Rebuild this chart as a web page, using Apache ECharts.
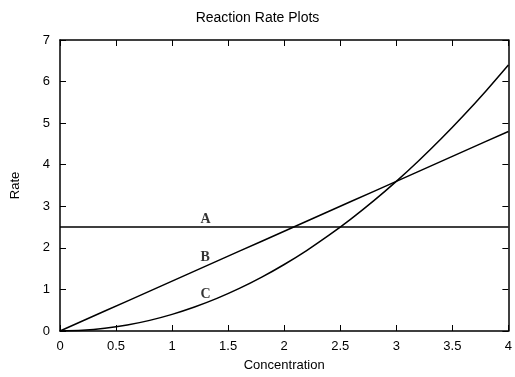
<!DOCTYPE html>
<html>
<head>
<meta charset="utf-8">
<script src="https://cdn.jsdelivr.net/npm/echarts@6/dist/echarts.min.js"></script>
<style>
html,body{margin:0;padding:0;background:#fff;}
#chart{width:515px;height:377px;}
</style>
</head>
<body>
<div id="chart"></div>
<script>
// Data
const concentration = [0, 0.2, 0.4, 0.6, 0.8, 1, 1.2, 1.4, 1.6, 1.8, 2, 2.2, 2.4, 2.6, 2.8, 3, 3.2, 3.4, 3.6, 3.8, 4];
const rateA = [2.5, 2.5, 2.5, 2.5, 2.5, 2.5, 2.5, 2.5, 2.5, 2.5, 2.5, 2.5, 2.5, 2.5, 2.5, 2.5, 2.5, 2.5, 2.5, 2.5, 2.5];
const rateB = [0, 0.24, 0.48, 0.72, 0.96, 1.2, 1.44, 1.68, 1.92, 2.16, 2.4, 2.64, 2.88, 3.12, 3.36, 3.6, 3.84, 4.08, 4.32, 4.56, 4.8];
const rateC = [0, 0.016, 0.064, 0.144, 0.256, 0.4, 0.576, 0.784, 1.024, 1.296, 1.6, 1.936, 2.304, 2.704, 3.136, 3.6, 4.096, 4.624, 5.184, 5.776, 6.4];
const curveNames = ['A', 'B', 'C'];
const curveLabelX = [1.25, 1.25, 1.25];
const curveLabelY = [2.68, 1.78, 0.88];
const xTicks = { min: 0, max: 4, interval: 0.5 };
const yTicks = { min: 0, max: 7, interval: 1 };

const pairs = (xs, ys) => xs.map((x, i) => [x, ys[i]]);
const FONT = 'Liberation Sans';
const lineStyle = { color: '#000', width: 1.5 };

function xAxisDef(pos, show) {
  return {
    type: 'value', position: pos, min: xTicks.min, max: xTicks.max, interval: xTicks.interval,
    name: show ? 'Concentration' : '', nameLocation: 'middle', nameGap: 28,
    nameTextStyle: { fontFamily: FONT, fontSize: 13, color: '#000' },
    axisLine: { show: true, onZero: false, lineStyle: { color: '#000', width: 1.5 } },
    axisTick: { show: true, inside: true, length: 6, lineStyle: { color: '#000', width: 1 } },
    axisLabel: { show: show, margin: 9, fontFamily: FONT, fontSize: 13, color: '#000', showMaxLabel: true, showMinLabel: true },
    splitLine: { show: false }
  };
}
function yAxisDef(pos, show) {
  return {
    type: 'value', position: pos, min: yTicks.min, max: yTicks.max, interval: yTicks.interval,
    name: show ? 'Rate' : '', nameLocation: 'middle', nameGap: 38, nameRotate: 90,
    nameTextStyle: { fontFamily: FONT, fontSize: 13, color: '#000' },
    axisLine: { show: true, onZero: false, lineStyle: { color: '#000', width: 1.5 } },
    axisTick: { show: true, inside: true, length: 6, lineStyle: { color: '#000', width: 1 } },
    axisLabel: { show: show, margin: 10, fontFamily: FONT, fontSize: 13, color: '#000' },
    splitLine: { show: false }
  };
}

const chart = echarts.init(document.getElementById('chart'), null, { renderer: 'canvas' });
chart.setOption({
  animation: false,
  backgroundColor: '#fff',
  title: {
    text: 'Reaction Rate Plots', left: 'center', top: 6,
    textStyle: { fontFamily: FONT, fontSize: 14, fontWeight: 'normal', color: '#000' }
  },
  grid: { left: 60, right: 2, top: 40, bottom: 44, containLabel: false },
  xAxis: [xAxisDef('bottom', true), xAxisDef('top', false)],
  yAxis: [yAxisDef('left', true), yAxisDef('right', false)],
  series: [
    { name: 'A', type: 'line', data: pairs(concentration, rateA), showSymbol: false, symbol: 'none', lineStyle: lineStyle, itemStyle: { color: '#000' } },
    { name: 'B', type: 'line', data: pairs(concentration, rateB), showSymbol: false, symbol: 'none', lineStyle: lineStyle, itemStyle: { color: '#000' } },
    { name: 'C', type: 'line', data: pairs(concentration, rateC), showSymbol: false, symbol: 'none', smooth: 0.3, lineStyle: lineStyle, itemStyle: { color: '#000' } },
    {
      type: 'scatter', symbolSize: 1, itemStyle: { color: 'rgba(0,0,0,0)' }, silent: true,
      data: curveNames.map((n, i) => ({ name: n, value: [curveLabelX[i], curveLabelY[i]] })),
      label: {
        show: true, position: 'right', distance: 0, formatter: '{b}',
        fontFamily: 'Liberation Serif', fontWeight: 'bold', fontSize: 14, color: '#000'
      }
    }
  ]
});
</script>
</body>
</html>
